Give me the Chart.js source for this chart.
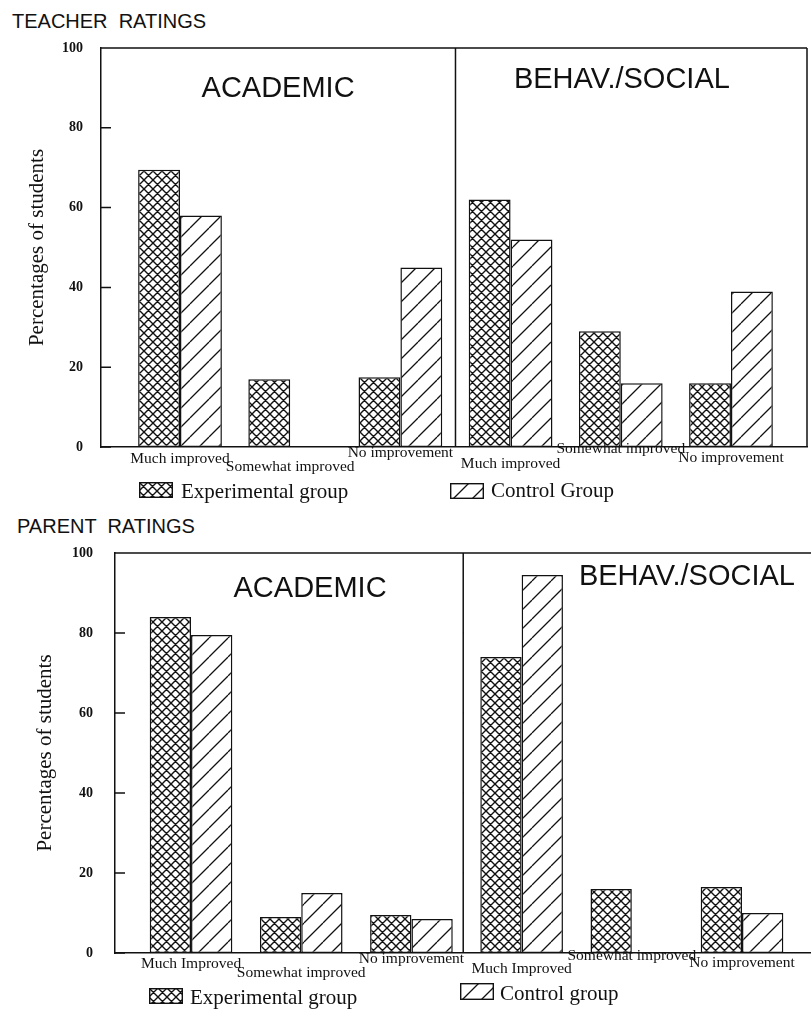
<!DOCTYPE html>
<html>
<head>
<meta charset="utf-8">
<script src="https://cdn.jsdelivr.net/npm/chart.js@4.4.1/dist/chart.umd.min.js"></script>
<style>
  body { margin: 0; background: #fff; width: 811px; height: 1010px; position: relative; overflow: hidden; }
  canvas.chart { position: absolute; left: 0; }
  #teacherChart { top: 0; }
  #parentChart { top: 505px; }
  .heading { position: absolute; font: 20px/20px "Liberation Sans", Arial, sans-serif; color: #111; white-space: pre; }
  .legText { position: absolute; font: 21px/22px "Liberation Serif", "Times New Roman", serif; color: #111; white-space: nowrap; }
  .sw { position: absolute; }
</style>
</head>
<body>
<div class="heading" style="left:12px; top:11px;">TEACHER  RATINGS</div>
<div class="heading" style="left:17px; top:516px;">PARENT  RATINGS</div>
<canvas id="teacherChart" class="chart" width="811" height="490"></canvas>
<canvas id="parentChart" class="chart" width="811" height="505"></canvas>

<canvas class="sw" data-kind="cross" width="34" height="16" style="left:139px; top:482px;"></canvas>
<div class="legText" style="left:181px; top:480px;">Experimental group</div>
<canvas class="sw" data-kind="hatch" width="34" height="16" style="left:450px; top:483px;"></canvas>
<div class="legText" style="left:491px; top:479px;">Control Group</div>

<canvas class="sw" data-kind="cross" width="34" height="16" style="left:149px; top:988px;"></canvas>
<div class="legText" style="left:190px; top:986px;">Experimental group</div>
<canvas class="sw" data-kind="hatch" width="34" height="17" style="left:460px; top:983px;"></canvas>
<div class="legText" style="left:500px; top:982px;">Control group</div>

<script>
// --- data (percent of students) ---
const teacherCategories = ['Much improved', 'Somewhat improved', 'No improvement', 'Much improved', 'Somewhat improved', 'No improvement'];
const parentCategories = ['Much Improved', 'Somewhat improved', 'No improvement', 'Much Improved', 'Somewhat improved', 'No improvement'];
const panelNames = ['ACADEMIC', 'BEHAV./SOCIAL'];
const seriesNames = ['Experimental group', 'Control group'];
const yTicks = [0, 20, 40, 60, 80, 100];

const teacherExperimental = [69.5, 17, 17.5, 62, 29, 16];
const teacherControl = [58, 0, 45, 52, 16, 39];
const parentExperimental = [84, 9, 9.5, 74, 16, 16.5];
const parentControl = [79.5, 15, 8.5, 94.5, 0, 10];

// fill patterns like the printed figure
function makePattern(ctx, kind) {
  const s = kind === 'cross' ? 9 : 19;
  const c = document.createElement('canvas');
  c.width = s; c.height = s;
  const g = c.getContext('2d');
  g.fillStyle = '#fff';
  g.fillRect(0, 0, s, s);
  g.strokeStyle = '#111';
  g.lineWidth = kind === 'cross' ? 1.4 : 1.3;
  g.beginPath();
  for (const d of [-s, 0, s]) {
    g.moveTo(d, s); g.lineTo(d + s, 0);
    if (kind === 'cross') { g.moveTo(d, 0); g.lineTo(d + s, s); }
  }
  g.stroke();
  return ctx.createPattern(c, 'repeat');
}

// legend swatches
document.querySelectorAll('canvas.sw').forEach(cv => {
  const g = cv.getContext('2d');
  g.fillStyle = makePattern(g, cv.dataset.kind);
  g.fillRect(0, 0, cv.width, cv.height);
  g.strokeStyle = '#111';
  g.lineWidth = 1.4;
  g.strokeRect(0.7, 0.7, cv.width - 1.4, cv.height - 1.4);
});

// box, divider, inward ticks, panel titles, staggered category labels
const framePlugin = {
  id: 'frame',
  afterDatasetsDraw(chart, args, o) {
    const { ctx, chartArea: a, scales: { x, y } } = chart;
    ctx.save();
    ctx.strokeStyle = '#111';
    ctx.lineWidth = 1.5;
    ctx.beginPath();
    ctx.moveTo(a.left, a.top); ctx.lineTo(a.right, a.top);
    if (o.rightEdge) { ctx.moveTo(a.right, a.top); ctx.lineTo(a.right, a.bottom); }
    const dx = x.getPixelForValue(o.divider);
    ctx.moveTo(dx, a.top); ctx.lineTo(dx, a.bottom);
    yTicks.forEach(t => {
      const py = y.getPixelForValue(t);
      ctx.moveTo(a.left, py); ctx.lineTo(a.left + 10, py);
    });
    ctx.stroke();

    ctx.fillStyle = '#111';
    ctx.textAlign = 'center';
    ctx.textBaseline = 'alphabetic';
    ctx.font = '29px "Liberation Sans", Arial, sans-serif';
    panelNames.forEach((name, i) => {
      const p = o.panelPos[i];
      ctx.fillText(name, x.getPixelForValue(p[0]), y.getPixelForValue(p[1]));
    });

    ctx.font = '15.5px "Liberation Serif", "Times New Roman", serif';
    o.labels.forEach((lab, i) => {
      ctx.fillText(lab, x.getPixelForValue(i + 1), a.bottom + o.drop[i]);
    });
    ctx.restore();
  }
};

function makeChart(id, labels, expData, ctlData, opt) {
  const canvas = document.getElementById(id);
  const ctx = canvas.getContext('2d');
  const cross = makePattern(ctx, 'cross');
  const hatch = makePattern(ctx, 'hatch');
  const pts = arr => arr.map((v, i) => ({ x: i + 1, y: v }));
  const serif = '"Liberation Serif", "Times New Roman", serif';

  return new Chart(ctx, {
    type: 'bar',
    data: {
      datasets: [
        { label: seriesNames[0], data: pts(expData), backgroundColor: cross },
        { label: seriesNames[1], data: pts(ctlData), backgroundColor: hatch }
      ]
    },
    options: {
      responsive: false,
      animation: false,
      devicePixelRatio: 1,
      datasets: {
        bar: {
          borderColor: '#111',
          borderWidth: 1.5,
          borderSkipped: false,
          barPercentage: 1,
          categoryPercentage: opt.catPct
        }
      },
      layout: { padding: opt.padding },
      plugins: {
        legend: { display: false },
        tooltip: { enabled: false },
        frame: {
          rightEdge: opt.rightEdge,
          divider: opt.divider,
          panelPos: opt.panelPos,
          labels: labels,
          drop: opt.drop
        }
      },
      scales: {
        x: {
          type: 'linear',
          offset: false,
          min: opt.xMin,
          max: opt.xMax,
          afterBuildTicks: s => { s.ticks = labels.map((l, i) => ({ value: i + 1 })); },
          afterFit: s => { s.height = 0; },
          ticks: { display: false },
          grid: { display: false },
          border: { display: true, color: '#111', width: 1.5 }
        },
        y: {
          min: 0,
          max: 100,
          afterBuildTicks: s => { s.ticks = yTicks.map(v => ({ value: v })); },
          afterFit: s => { s.width = opt.axisLeft; },
          ticks: {
            padding: opt.tickPad,
            color: '#111',
            font: { family: serif, size: 14, weight: 'bold' }
          },
          grid: { display: false },
          border: { display: true, color: '#111', width: 1.5 },
          title: {
            display: true,
            text: 'Percentages of students',
            color: '#111',
            font: { family: serif, size: 21 },
            padding: { top: opt.titlePad, bottom: 0 }
          }
        }
      }
    },
    plugins: [framePlugin]
  });
}

makeChart('teacherChart', teacherCategories, teacherExperimental, teacherControl, {
  padding: { top: 48, right: 4, bottom: 43, left: 0 },
  axisLeft: 101,
  tickPad: 10,
  titlePad: 25,
  xMin: 0.283,
  xMax: 6.69,
  catPct: 0.76,
  divider: 3.5,
  rightEdge: true,
  panelPos: [[1.89, 87.7], [5.01, 90]],
  drop: [16, 24, 10, 21, 6, 15]
});

makeChart('parentChart', parentCategories, parentExperimental, parentControl, {
  padding: { top: 48, right: 0, bottom: 57, left: 0 },
  axisLeft: 115,
  tickPad: 14,
  titlePad: 33,
  xMin: 0.31,
  xMax: 6.626,
  catPct: 0.75,
  divider: 3.47,
  rightEdge: false,
  panelPos: [[2.08, 89], [5.5, 92]],
  drop: [15, 24, 10, 20, 7, 14]
});
</script>
</body>
</html>
